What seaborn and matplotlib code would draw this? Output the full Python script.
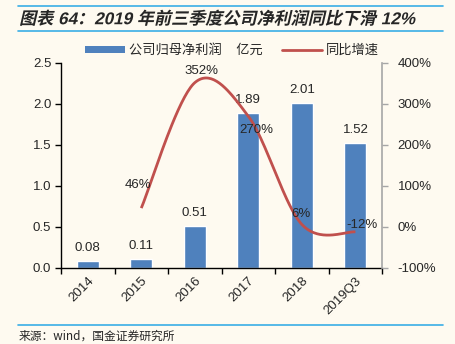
import numpy as np
import pandas as pd
import matplotlib
matplotlib.use("Agg")
import matplotlib.pyplot as plt
import seaborn as sns
from matplotlib.patches import Patch
from matplotlib.lines import Line2D
from matplotlib.patheffects import AbstractPathEffect
from matplotlib.transforms import Affine2D

years = ["2014", "2015", "2016", "2017", "2018", "2019Q3"]
profit = [0.08, 0.11, 0.51, 1.89, 2.01, 1.52]
growth_years = ["2015", "2016", "2017", "2018", "2019Q3"]
growth = [46, 352, 270, 6, -12]
growth_labels = ["46%", "352%", "270%", "6%", "-12%"]

title = "图表 64：2019 年前三季度公司净利润同比下滑 12%"
source = "来源：wind，国金证券研究所"
bar_name = "公司归母净利润    亿元"
line_name = "同比增速"

BG = "#FEFAF0"
BLUE = "#4F81BD"
RED = "#C0504D"
CYAN = "#3AAEE6"


class Skew(AbstractPathEffect):
    """Synthetic oblique for fonts without an italic face."""
    def __init__(self, deg=13):
        super().__init__()
        self.deg = deg

    def draw_path(self, renderer, gc, tpath, affine, rgbFace=None):
        renderer.draw_path(gc, tpath, Affine2D().skew_deg(self.deg, 0) + affine, rgbFace)


sns.set_theme(style="white")
plt.rcParams["font.family"] = ["Liberation Sans", "Noto Sans CJK SC", "DejaVu Sans"]

fig = plt.figure(figsize=(4.55, 3.44), dpi=100, facecolor=BG)
ax = fig.add_axes([0.134, 0.221, 0.706, 0.596])
ax.set_facecolor(BG)

df = pd.DataFrame({"year": years, "profit": profit})
sns.barplot(data=df, x="year", y="profit", color=BLUE, width=0.41,
            saturation=1, ax=ax, order=years)
ax.set_xlim(-0.5, len(years) - 0.5)
ax.set_ylim(0, 2.5)
ax.set_yticks(np.arange(0, 2.51, 0.5))
ax.set_yticklabels([f"{v:.1f}" for v in np.arange(0, 2.51, 0.5)], fontsize=9.5)
ax.set_xlabel("")
ax.set_ylabel("")
ax.set_xticks(range(len(years)))
ax.set_xticklabels(years, rotation=45, ha="right", rotation_mode="anchor", fontsize=9.5)
ax.tick_params(axis="x", length=0, pad=5)
ax.set_xticks(np.arange(-0.5, len(years), 1.0), minor=True)
ax.tick_params(axis="x", which="minor", length=4, width=1, color="black", direction="out", bottom=True)
ax.tick_params(axis="y", length=4, width=1, color="black", direction="out", left=True, pad=3)
for s in ["top", "right"]:
    ax.spines[s].set_visible(False)
for s in ["left", "bottom"]:
    ax.spines[s].set_color("black")
    ax.spines[s].set_linewidth(1)

for i, v in enumerate(profit):
    ax.annotate(f"{v:.2f}", (i, v), xytext=(0, 5), textcoords="offset points",
                ha="center", va="bottom", fontsize=9.5)

ax2 = ax.twinx()
ax2.set_ylim(-100, 400)
ax2.set_yticks(range(-100, 401, 100))
ax2.set_yticklabels([f"{v}%" for v in range(-100, 401, 100)], fontsize=9.5)
for s in ["top", "left", "bottom"]:
    ax2.spines[s].set_visible(False)
ax2.spines["right"].set_color("#A6A6A6")
ax2.spines["right"].set_linewidth(1.2)
ax2.tick_params(axis="y", length=4, width=1, color="#A6A6A6", direction="out", right=True, pad=7)
ax2.grid(False)
ax.grid(False)

# Excel-style smoothed line (Bezier through the data points)
gx = np.array([years.index(y) for y in growth_years], dtype=float)
gy = np.array(growth, dtype=float)
pts = np.column_stack([gx, gy])
n = len(pts)
curve = []
t = np.linspace(0, 1, 40)
for i in range(n - 1):
    p0 = pts[i]
    p3 = pts[i + 1]
    pm = pts[i - 1] if i > 0 else pts[i]
    pn = pts[i + 2] if i + 2 < n else pts[i + 1]
    c1 = p0 + (p3 - pm) / 6
    c2 = p3 - (pn - p0) / 6
    seg = ((1 - t) ** 3)[:, None] * p0 + (3 * (1 - t) ** 2 * t)[:, None] * c1 \
        + (3 * (1 - t) * t ** 2)[:, None] * c2 + (t ** 3)[:, None] * p3
    curve.append(seg)
curve = np.vstack(curve)
ax2.plot(curve[:, 0], curve[:, 1], color=RED, lw=2.0, solid_capstyle="butt")

offsets = [(-2, 12), (5, 4), (6, -14), (-1, 3), (5, 1)]
for x, y, lab, off in zip(gx, gy, growth_labels, offsets):
    ax2.annotate(lab, (x, y), xytext=off, textcoords="offset points",
                 ha="center", va="bottom", fontsize=9.5)

handles = [Patch(facecolor=BLUE, edgecolor="none"), Line2D([0], [0], color=RED, lw=2)]
fig.legend(handles, [bar_name, line_name], loc="center", bbox_to_anchor=(0.51, 0.853),
           ncol=2, frameon=False, fontsize=9.5, handlelength=3.0, handleheight=0.5,
           columnspacing=1.5, handletextpad=0.3)

# Title and frame lines
fig.add_artist(Line2D([0.04, 0.974], [1 - 6 / 344, 1 - 6 / 344], color=CYAN, lw=1.2))
fig.add_artist(Line2D([0.04, 0.974], [1 - 31 / 344, 1 - 31 / 344], color=CYAN, lw=1.2))
fig.add_artist(Line2D([0.04, 0.974], [1 - 325 / 344, 1 - 325 / 344], color=CYAN, lw=1.2))
fig.text(0.042, 1 - 18.5 / 344, title, fontsize=12.3, fontweight="bold",
         va="center", ha="left", path_effects=[Skew(13)])
fig.text(0.04, 1 - 336 / 344, source, fontsize=8.5, va="center", ha="left",
         family=["Noto Sans CJK SC", "DejaVu Sans"])

fig.savefig("out.png", dpi=100, facecolor=BG)
